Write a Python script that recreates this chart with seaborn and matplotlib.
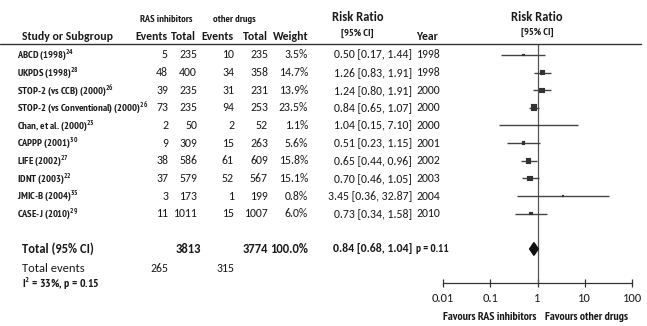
"""
Forest plot: RAS inhibitors vs other drugs (risk ratio, 95% CI)
"""
import numpy as np
import pandas as pd
import seaborn as sns
import matplotlib.pyplot as plt
from matplotlib import transforms
from matplotlib.lines import Line2D

studies = ["ABCD (1998)", "UKPDS (1998)", "STOP-2 (vs CCB) (2000)",
           "STOP-2 (vs Conventional) (2000)", "Chan, et al. (2000)",
           "CAPPP (2001)", "LIFE (2002)", "IDNT (2003)", "JMIC-B (2004)",
           "CASE-J (2010)"]
refs = ["24", "28", "26", "26", "23", "30", "27", "22", "35", "29"]
ras_events = [5, 48, 39, 73, 2, 9, 38, 37, 3, 11]
ras_total = [235, 400, 235, 235, 50, 309, 586, 579, 173, 1011]
oth_events = [10, 34, 31, 94, 2, 15, 61, 52, 1, 15]
oth_total = [235, 358, 231, 253, 52, 263, 609, 567, 199, 1007]
weight = [3.5, 14.7, 13.9, 23.5, 1.1, 5.6, 15.8, 15.1, 0.8, 6.0]
rr = [0.50, 1.26, 1.24, 0.84, 1.04, 0.51, 0.65, 0.70, 3.45, 0.73]
rr_lo = [0.17, 0.83, 0.80, 0.65, 0.15, 0.23, 0.44, 0.46, 0.36, 0.34]
rr_hi = [1.44, 1.91, 1.91, 1.07, 7.10, 1.15, 0.96, 1.05, 32.87, 1.58]
years = [1998, 1998, 2000, 2000, 2000, 2001, 2002, 2003, 2004, 2010]

total_ras, total_oth = 3813, 3774
events_ras, events_oth = 265, 315
pooled = [0.84, 0.68, 1.04]
pooled_p = "0.11"
het_text = r"I$^{\mathbf{2}}$ = 33%, p = 0.15"
x_ticks = [0.01, 0.1, 1, 10, 100]
x_ticklabels = ["0.01", "0.1", "1", "10", "100"]

sns.set_style("white")
CAL = ["Carlito", "DejaVu Sans"]
NAR = ["PT Sans Narrow", "DejaVu Sans"]
plt.rcParams["font.family"] = NAR
plt.rcParams["mathtext.fontset"] = "custom"
plt.rcParams["mathtext.rm"] = "PT Sans Narrow"
plt.rcParams["mathtext.bf"] = "PT Sans Narrow:bold"
TXT = "#1a1a1a"
NUM = 8.5
HEAD = 8.5

W, H = 647, 326
fig = plt.figure(figsize=(W / 100, H / 100), dpi=100)
ax = fig.add_axes([443 / W, 1 - 283 / H, (632 - 443) / W, (283 - 44) / H])

df = pd.DataFrame({"rr": rr, "lo": rr_lo, "hi": rr_hi, "weight": weight,
                   "row": np.arange(len(studies))})
total_row = len(studies) + 1

# study CIs and weighted squares
ax.hlines(df["row"], df["lo"], df["hi"], color="#444444", lw=1)
sns.scatterplot(data=df, x="rr", y="row", size="weight", sizes=(1, 24),
                marker="s", color="#333333", edgecolor="#333333",
                legend=False, ax=ax, zorder=3)

# pooled diamond
est, lo, hi = pooled
ax.fill([lo, est, hi, est], [total_row, total_row - 0.36, total_row, total_row + 0.36],
        color="#111111", zorder=3)
ax.axvline(1, color="#555555", lw=0.9, zorder=1)

ax.set_xscale("log")
ax.set_xlim(0.01, 100)
ax.set_ylim(12.93, -0.62)
ax.set_xticks(x_ticks)
ax.set_xticklabels(x_ticklabels, family=CAL, fontsize=9, color=TXT)
ax.minorticks_off()
ax.set_yticks([])
ax.set_xlabel("")
ax.set_ylabel("")
for s in ["top", "left", "right"]:
    ax.spines[s].set_visible(False)
ax.spines["bottom"].set_color("#333333")
ax.spines["bottom"].set_linewidth(0.9)
ax.tick_params(axis="x", direction="inout", length=6, width=0.9,
               color="#333333", pad=4, bottom=True)
ax.patch.set_alpha(0)

# text helpers: x in pixels, y either pixels or a plot row
rowtrans = transforms.blended_transform_factory(fig.transFigure, ax.transData)


def put(x, y, s, **kw):
    kw.setdefault("color", TXT)
    fig.text(x / W, 1 - y / H, s, va="center", **kw)


def row_text(x, r, s, **kw):
    kw.setdefault("color", TXT)
    fig.text(x / W, r, s, transform=rowtrans, va="center", **kw)


# header
put(140, 19, "RAS inhibitors", family=NAR, fontsize=7.5, weight="bold")
put(213, 19, "other drugs", family=NAR, fontsize=7.5, weight="bold")
put(22, 37, "Study or Subgroup", family=CAL, fontsize=HEAD, weight="bold")
put(167, 37, "Events", family=CAL, fontsize=HEAD, weight="bold", ha="right")
put(196, 37, "Total", family=CAL, fontsize=HEAD, weight="bold", ha="right")
put(234, 37, "Events", family=CAL, fontsize=HEAD, weight="bold", ha="right")
put(268, 37, "Total", family=CAL, fontsize=HEAD, weight="bold", ha="right")
put(308, 37, "Weight", family=CAL, fontsize=HEAD, weight="bold", ha="right")
put(358, 17, "Risk Ratio", family=CAL, fontsize=9, weight="bold", ha="center")
put(357, 33, "[95% CI]", family=NAR, fontsize=7.5, weight="bold", ha="center")
put(427, 36, "Year", family=CAL, fontsize=HEAD, weight="bold", ha="center")
put(537, 17, "Risk Ratio", family=CAL, fontsize=9, weight="bold", ha="center")
put(537, 32, "[95% CI]", family=NAR, fontsize=7.5, weight="bold", ha="center")
fig.add_artist(Line2D([0.0, 641 / W], [1 - 44 / H] * 2, transform=fig.transFigure,
                      color="#333333", lw=1))

# study rows
for i in range(len(studies)):
    row_text(17, i, studies[i] + r"$^{\mathbf{" + refs[i] + "}}$",
             family=NAR, fontsize=7.5, weight="bold")
    row_text(168, i, str(ras_events[i]), family=CAL, fontsize=NUM, ha="right")
    row_text(197, i, str(ras_total[i]), family=CAL, fontsize=NUM, ha="right")
    row_text(234, i, str(oth_events[i]), family=CAL, fontsize=NUM, ha="right")
    row_text(268, i, str(oth_total[i]), family=CAL, fontsize=NUM, ha="right")
    row_text(308, i, "{:.1f}%".format(weight[i]), family=CAL, fontsize=NUM, ha="right")
    row_text(412, i, "{:.2f} [{:.2f}, {:.2f}]".format(rr[i], rr_lo[i], rr_hi[i]),
             family=CAL, fontsize=NUM, ha="right")
    row_text(416, i, str(years[i]), family=CAL, fontsize=NUM)

# totals
row_text(22, total_row, "Total (95% CI)", family=CAL, fontsize=9, weight="bold")
row_text(201, total_row, str(total_ras), family=CAL, fontsize=9, weight="bold", ha="right")
row_text(268, total_row, str(total_oth), family=CAL, fontsize=9, weight="bold", ha="right")
row_text(308, total_row, "{:.1f}%".format(sum(weight)), family=CAL, fontsize=9,
         weight="bold", ha="right")
row_text(412, total_row, "{:.2f} [{:.2f}, {:.2f}]".format(*pooled), family=CAL,
         fontsize=NUM, weight="bold", ha="right")
row_text(416, total_row, "p = " + pooled_p, family=NAR, fontsize=8, weight="bold")

put(22, 268, "Total events", family=CAL, fontsize=9)
put(168, 268, str(events_ras), family=CAL, fontsize=NUM, ha="right")
put(234, 268, str(events_oth), family=CAL, fontsize=NUM, ha="right")
put(22, 284, het_text, family=NAR, fontsize=8.5, weight="bold")

put(443, 317, "Favours RAS inhibitors", family=NAR, fontsize=8.5, weight="bold")
put(545, 317, "Favours other drugs", family=NAR, fontsize=8.5, weight="bold")

fig.savefig("out.png", dpi=100)
